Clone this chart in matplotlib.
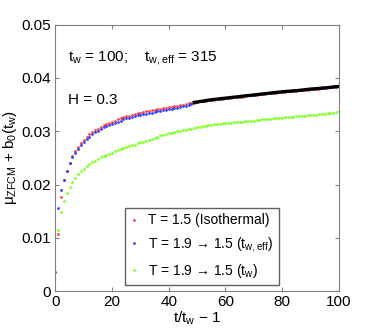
import numpy as np
import matplotlib
matplotlib.use("Agg")
import matplotlib.pyplot as plt

plt.rcParams['font.family'] = ['Liberation Sans', 'DejaVu Sans']
plt.rcParams['mathtext.fontset'] = 'custom'
plt.rcParams['mathtext.rm'] = 'Liberation Sans'
plt.rcParams['mathtext.it'] = 'Liberation Sans'

# -----------------------------
# Data
# -----------------------------
x_iso = list(range(1, 101))
y_iso = [0.0108, 0.0176, 0.0208, 0.0225, 0.0240, 0.0254, 0.0263, 0.0271, 0.0278, 0.0284,
         0.0289, 0.0294, 0.0298, 0.0302, 0.0305, 0.0308, 0.0311, 0.0314, 0.0316, 0.0318,
         0.0320, 0.0322, 0.0324, 0.0326, 0.0328, 0.0329, 0.0331, 0.0332, 0.0334, 0.0335,
         0.0336, 0.0337, 0.0338, 0.0339, 0.0340, 0.0341, 0.0342, 0.0343, 0.0344, 0.0345,
         0.0346, 0.0347, 0.0348, 0.0349, 0.0350, 0.0351, 0.0352, 0.0353, 0.0354, 0.0355,
         0.0356, 0.0356, 0.0357, 0.0358, 0.0358, 0.0359, 0.0360, 0.0360, 0.0361, 0.0362,
         0.0362, 0.0363, 0.0364, 0.0364, 0.0365, 0.0365, 0.0366, 0.0367, 0.0367, 0.0368,
         0.0368, 0.0369, 0.0370, 0.0370, 0.0371, 0.0371, 0.0372, 0.0372, 0.0373, 0.0374,
         0.0374, 0.0375, 0.0375, 0.0376, 0.0376, 0.0377, 0.0377, 0.0378, 0.0378, 0.0379,
         0.0379, 0.0380, 0.0380, 0.0381, 0.0381, 0.0382, 0.0382, 0.0383, 0.0383, 0.0384]

x_eff = list(range(0, 101))
y_eff = [0.0036,
         0.0156, 0.0190, 0.0209, 0.0226, 0.0240, 0.0251, 0.0260, 0.0267, 0.0274, 0.0280,
         0.0285, 0.0290, 0.0294, 0.0298, 0.0301, 0.0304, 0.0307, 0.0310, 0.0312, 0.0314,
         0.0316, 0.0318, 0.0320, 0.0322, 0.0324, 0.0325, 0.0327, 0.0328, 0.0330, 0.0331,
         0.0332, 0.0333, 0.0334, 0.0335, 0.0336, 0.0337, 0.0338, 0.0339, 0.0340, 0.0341,
         0.0342, 0.0343, 0.0344, 0.0345, 0.0347, 0.0348, 0.0349, 0.0351, 0.0352, 0.0354,
         0.0356, 0.0357, 0.0358, 0.0358, 0.0359, 0.0360, 0.0360, 0.0361, 0.0362, 0.0362,
         0.0363, 0.0364, 0.0364, 0.0365, 0.0366, 0.0366, 0.0367, 0.0367, 0.0368, 0.0368,
         0.0369, 0.0370, 0.0370, 0.0371, 0.0372, 0.0372, 0.0373, 0.0373, 0.0374, 0.0374,
         0.0375, 0.0376, 0.0376, 0.0377, 0.0377, 0.0378, 0.0378, 0.0379, 0.0379, 0.0380,
         0.0380, 0.0381, 0.0381, 0.0382, 0.0382, 0.0383, 0.0383, 0.0384, 0.0384, 0.0385]

x_tw = list(range(1, 101))
y_tw = [0.0115, 0.0149, 0.0170, 0.0185, 0.0196, 0.0205, 0.0213, 0.0220, 0.0225, 0.0230,
        0.0234, 0.0238, 0.0242, 0.0245, 0.0248, 0.0251, 0.0253, 0.0256, 0.0258, 0.0260,
        0.0262, 0.0264, 0.0266, 0.0268, 0.0270, 0.0272, 0.0274, 0.0275, 0.0277, 0.0279,
        0.0280, 0.0282, 0.0284, 0.0286, 0.0288, 0.0290, 0.0292, 0.0293, 0.0294, 0.0296,
        0.0297, 0.0299, 0.0300, 0.0301, 0.0302, 0.0303, 0.0304, 0.0305, 0.0306, 0.0307,
        0.0308, 0.0309, 0.0310, 0.0311, 0.0312, 0.0313, 0.0314, 0.0314, 0.0315, 0.0315,
        0.0316, 0.0316, 0.0317, 0.0317, 0.0318, 0.0318, 0.0319, 0.0319, 0.0320, 0.0320,
        0.0321, 0.0321, 0.0322, 0.0322, 0.0323, 0.0323, 0.0324, 0.0324, 0.0325, 0.0325,
        0.0326, 0.0326, 0.0327, 0.0327, 0.0328, 0.0328, 0.0329, 0.0329, 0.0330, 0.0330,
        0.0331, 0.0331, 0.0332, 0.0332, 0.0333, 0.0334, 0.0335, 0.0335, 0.0336, 0.0337]

# fit curve drawn on top of the red/blue data for t/tw - 1 >= 50
x_fit = [49, 55, 60, 65, 70, 75, 80, 85, 90, 95, 100]
y_fit = [0.0354, 0.0359, 0.0362, 0.0365, 0.0368, 0.0371, 0.0374, 0.0376, 0.0379, 0.0381, 0.0384]

labels = ["T = 1.5 (Isothermal)",
          "T = 1.9 \u2192 1.5 (t$_{\\mathrm{w,eff}}$)",
          "T = 1.9 \u2192 1.5 (t$_{\\mathrm{w}}$)"]

# -----------------------------
# Plot
# -----------------------------
fig = plt.figure(figsize=(3.74, 3.32), dpi=100)
ax = fig.add_axes([0.148, 0.123, 0.758, 0.803])

ms = 2.0
ax.plot(x_iso, y_iso, 'o', color='#ff4040', ms=ms, mew=0, label=labels[0])
ax.plot(x_eff, y_eff, 'o', color='#3040ff', ms=ms, mew=0, label=labels[1])
ax.plot(x_tw, y_tw, 'o', color='#80ff20', ms=ms, mew=0, label=labels[2])
ax.plot(x_fit, y_fit, '-', color='black', lw=2.4)

ax.set_xlim(0, 100)
ax.set_ylim(0, 0.05)
ax.set_xticks([0, 20, 40, 60, 80, 100])
ax.set_yticks([0, 0.01, 0.02, 0.03, 0.04, 0.05])
ax.set_yticklabels(['0', '0.01', '0.02', '0.03', '0.04', '0.05'])
ax.tick_params(direction='in', top=True, right=True, labelsize=11, length=3,
               color='#808080', pad=3)
for sp in ax.spines.values():
    sp.set_color('#808080')

ax.set_xlabel(r"t/t$_{\mathrm{w}}$ $-$ 1", fontsize=11, labelpad=0)
ax.set_ylabel(r"$\mu_{\mathrm{ZFCM}}$ + b$_{\mathrm{0}}$(t$_{\mathrm{w}}$)", fontsize=11, labelpad=2)

ax.text(4.5, 0.0437, r"t$_{\mathrm{w}}$ = 100;    t$_{\mathrm{w,eff}}$ = 315", fontsize=11, va='center')
ax.text(4.5, 0.0358, "H = 0.3", fontsize=11, va='center')

leg = ax.legend(loc='lower left', bbox_to_anchor=(0.245, 0.022), fontsize=10,
                markerscale=1.0, handlelength=0.5, handletextpad=0.8,
                borderpad=0.4, borderaxespad=0, labelspacing=0.55,
                fancybox=False, framealpha=1)
leg.get_frame().set_edgecolor('#606060')
leg.get_frame().set_linewidth(1.0)

fig.savefig("out.png", dpi=100)
